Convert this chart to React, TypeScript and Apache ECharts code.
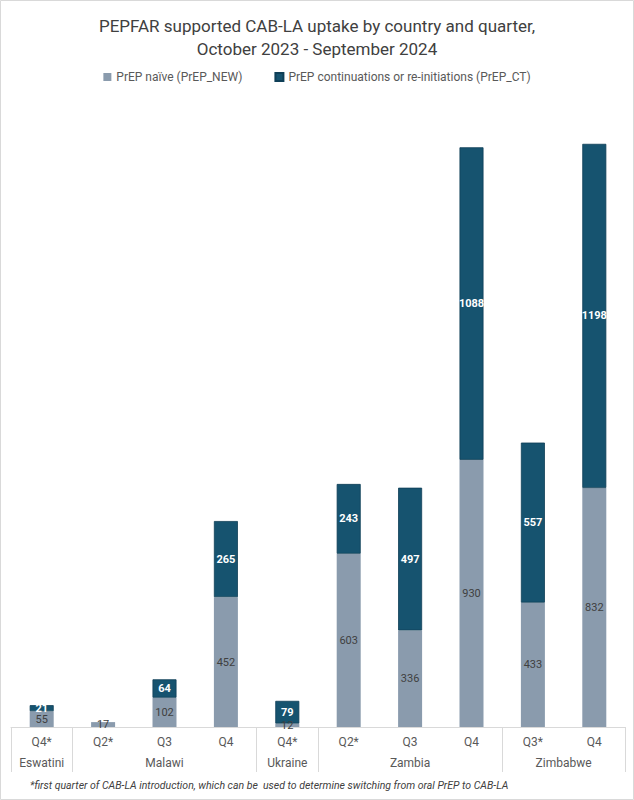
import React, { useEffect, useRef } from "react";
import * as echarts from "echarts";

const quarters = ["Q4*", "Q2*", "Q3", "Q4", "Q4*", "Q2*", "Q3", "Q4", "Q3*", "Q4"];
const naive = [55, 17, 102, 452, 12, 603, 336, 930, 433, 832];
const continuations = [21, null, 64, 265, 79, 243, 497, 1088, 557, 1198];
const countries = ["Eswatini", "Malawi", "Ukraine", "Zambia", "Zimbabwe"];
const countrySpans = [1, 3, 1, 3, 2];

const titleText = "PEPFAR supported CAB-LA uptake by country and quarter,\nOctober 2023 - September 2024";
const footnote = "*first quarter of CAB-LA introduction, which can be  used to determine switching from oral PrEP to CAB-LA";

const FONT = "Roboto, 'Noto Sans', sans-serif";

export default function App() {
  const ref = useRef<HTMLDivElement>(null);

  useEffect(() => {
    document.body.style.margin = "0";
    if (!ref.current) return;
    const chart = echarts.init(ref.current, null, { renderer: "svg" });

    // half-slot axis for country grouping: 2 half-slots per quarter
    const n = quarters.length * 2 + 1;
    const halfData: string[] = new Array(n).fill("");
    const boundaries = new Set<number>([0]);
    let pos = 0;
    countries.forEach((c, i) => {
      const start = pos;
      pos += countrySpans[i] * 2;
      halfData[(start + pos) / 2] = c;
      boundaries.add(pos);
    });

    chart.setOption({
      animation: false,
      textStyle: { fontFamily: FONT },
      title: {
        text: titleText,
        left: "center",
        top: 9,
        textStyle: {
          fontFamily: FONT,
          fontSize: 17,
          lineHeight: 23,
          fontWeight: "normal",
          color: "#404040",
        },
      },
      legend: {
        top: 66,
        left: "center",
        itemWidth: 8,
        itemHeight: 8,
        itemGap: 32,
        icon: "rect",
        textStyle: { fontFamily: FONT, fontSize: 12, color: "#595959" },
        data: ["PrEP naïve (PrEP_NEW)", "PrEP continuations or re-initiations (PrEP_CT)"],
      },
      grid: { left: 11, right: 9, top: 95, bottom: 73 },
      xAxis: [
        {
          type: "category",
          data: quarters,
          axisLine: { lineStyle: { color: "#d9d9d9", width: 1 } },
          axisTick: { show: false },
          axisLabel: {
            interval: 0,
            margin: 9,
            fontFamily: FONT,
            fontSize: 12,
            color: "#595959",
          },
        },
        {
          type: "category",
          position: "bottom",
          boundaryGap: false,
          data: halfData,
          axisLine: { show: false },
          axisTick: {
            show: true,
            length: 45,
            interval: (idx: number) => boundaries.has(idx),
            lineStyle: { color: "#d9d9d9", width: 1 },
          },
          axisLabel: {
            interval: (idx: number, v: string) => v !== "",
            margin: 30,
            fontFamily: FONT,
            fontSize: 12,
            color: "#595959",
          },
        },
      ],
      yAxis: {
        type: "value",
        min: 0,
        max: 2200,
        show: false,
        splitLine: { show: false },
      },
      series: [
        {
          name: "PrEP naïve (PrEP_NEW)",
          type: "bar",
          stack: "total",
          xAxisIndex: 0,
          barWidth: 24,
          data: naive,
          itemStyle: { color: "#8a9bad" },
          label: {
            show: true,
            position: "inside",
            fontFamily: FONT,
            fontSize: 11,
            color: "#404040",
          },
        },
        {
          name: "PrEP continuations or re-initiations (PrEP_CT)",
          type: "bar",
          stack: "total",
          xAxisIndex: 0,
          barWidth: 24,
          data: continuations,
          itemStyle: { color: "#16536f", borderColor: "#0f3f57", borderWidth: 0.8 },
          label: {
            show: true,
            position: "inside",
            fontFamily: FONT,
            fontSize: 11,
            fontWeight: "bold",
            color: "#ffffff",
          },
        },
      ],
      graphic: [
        {
          type: "rect",
          shape: { x: 0.5, y: 0.5, width: 633, height: 799 },
          style: { fill: "none", stroke: "#d9d9d9", lineWidth: 1 },
          silent: true,
        },
        {
          type: "text",
          left: 30,
          top: 780,
          style: {
            text: footnote,
            fontFamily: FONT,
            fontSize: 10.5,
            fontStyle: "italic",
            fill: "#404040",
          },
        },
      ],
    });

    return () => chart.dispose();
  }, []);

  return <div ref={ref} style={{ width: 634, height: 800 }} />;
}
